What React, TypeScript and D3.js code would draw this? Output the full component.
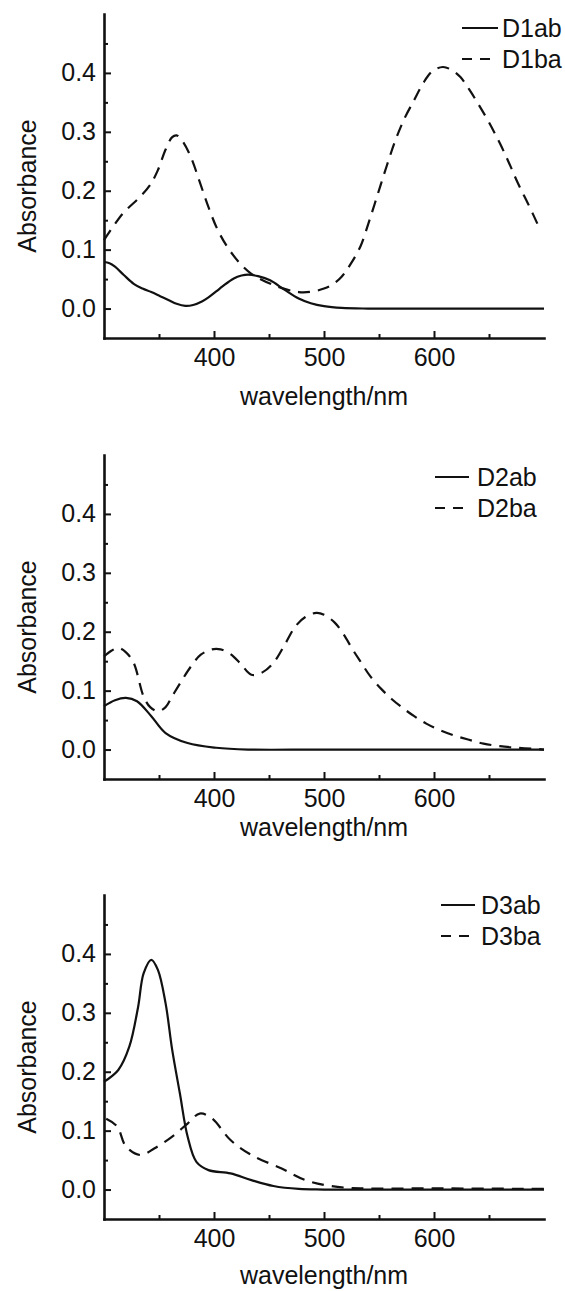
import * as d3 from "d3";
import { useEffect, useRef } from "react";

// wavelength (nm) / absorbance
const d1abNm = [300, 305, 310, 318, 327, 335, 343, 351, 359, 366, 374, 381, 389, 395, 402, 408, 418, 425, 431, 440, 451, 464, 477, 488, 500, 516, 540, 600, 700];
const d1abA = [0.079, 0.077, 0.071, 0.057, 0.042, 0.034, 0.028, 0.021, 0.014, 0.008, 0.0045, 0.006, 0.012, 0.019, 0.029, 0.038, 0.051, 0.056, 0.0577, 0.055, 0.048, 0.032, 0.017, 0.009, 0.004, 0.001, 0, 0, 0];
const d1baNm = [300, 317, 333, 342, 349, 356, 362, 366, 371, 379, 387, 395, 403, 412, 423, 434, 454, 477, 490, 500, 508, 516, 524, 533, 541, 549, 557, 565, 573, 582, 590, 598, 608, 616, 624, 632, 640, 650, 660, 668, 676, 686, 695];
const d1baA = [0.116, 0.161, 0.19, 0.21, 0.235, 0.27, 0.291, 0.294, 0.285, 0.257, 0.215, 0.172, 0.135, 0.105, 0.078, 0.059, 0.04, 0.028, 0.029, 0.034, 0.041, 0.054, 0.075, 0.105, 0.148, 0.195, 0.242, 0.286, 0.322, 0.354, 0.382, 0.402, 0.41, 0.405, 0.393, 0.372, 0.348, 0.316, 0.28, 0.248, 0.214, 0.176, 0.14];

const d2abNm = [300, 310, 320, 330, 343, 356, 376, 402, 431, 500, 700];
const d2abA = [0.0736, 0.0838, 0.0877, 0.082, 0.0566, 0.028, 0.011, 0.003, 0, 0, 0];
const d2baNm = [300, 307, 313, 320, 327, 336, 342, 349, 356, 362, 370, 379, 388, 398, 406, 415, 424, 434, 444, 454, 464, 474, 483, 493, 500, 510, 518, 526, 534, 542, 552, 562, 572, 582, 593, 604, 618, 631, 645, 660, 676, 693, 700];
const d2baA = [0.158, 0.168, 0.1726, 0.165, 0.147, 0.09, 0.072, 0.065, 0.072, 0.0905, 0.115, 0.141, 0.161, 0.17, 0.17, 0.162, 0.146, 0.127, 0.131, 0.147, 0.177, 0.209, 0.225, 0.232, 0.229, 0.215, 0.195, 0.17, 0.147, 0.1245, 0.103, 0.085, 0.07, 0.0566, 0.044, 0.034, 0.024, 0.017, 0.01, 0.0057, 0.003, 0.001, 0];

const d3abNm = [300, 313, 323, 331, 336, 343, 349, 356, 362, 369, 376, 384, 395, 415, 434, 454, 477, 500, 700];
const d3abA = [0.183, 0.203, 0.2425, 0.31, 0.367, 0.39, 0.373, 0.316, 0.237, 0.163, 0.09, 0.047, 0.033, 0.0275, 0.016, 0.006, 0.001, 0, 0];
const d3baNm = [302, 312, 320, 333, 346, 362, 376, 387, 398, 415, 434, 461, 483, 506, 533, 600, 700];
const d3baA = [0.12, 0.107, 0.073, 0.0586, 0.07, 0.09, 0.112, 0.129, 0.121, 0.084, 0.0586, 0.036, 0.016, 0.006, 0.002, 0.002, 0.001];

const xDomain = [300, 700];
const yDomain = [-0.05, 0.5];
const xMajor = [400, 500, 600];
const xMinor = [350, 450, 550, 650];
const yMajor = [0, 0.1, 0.2, 0.3, 0.4];
const yMinor = [0.05, 0.15, 0.25, 0.35, 0.45];

const FONT = "'Liberation Sans', Arial, sans-serif";
const DASH = "12,8";

const panels = [
  { top: 14, names: ["D1ab", "D1ba"], ab: [d1abNm, d1abA], ba: [d1baNm, d1baA], leg: { x1: 462, x2: 498, tx: 502, r1: 14, r2: 45 }, titleGap: 67 },
  { top: 455, names: ["D2ab", "D2ba"], ab: [d2abNm, d2abA], ba: [d2baNm, d2baA], leg: { x1: 435, x2: 469, tx: 477, r1: 22, r2: 53 }, titleGap: 57 },
  { top: 895, names: ["D3ab", "D3ba"], ab: [d3abNm, d3abA], ba: [d3baNm, d3baA], leg: { x1: 441, x2: 475, tx: 481, r1: 10, r2: 41 }, titleGap: 65 },
];

function Panel({ p }: { p: any }) {
  const ref = useRef<SVGGElement>(null);

  useEffect(() => {
    const g = d3.select(ref.current);
    g.selectAll("*").remove();
    const h = 324;
    const x = d3.scaleLinear().domain(xDomain).range([104, 544]);
    const y = d3.scaleLinear().domain(yDomain).range([p.top + h, p.top]);
    const x0 = x(xDomain[0]);
    const yb = y(yDomain[0]);

    // minor ticks, pointing inward
    g.append("g").attr("transform", `translate(${x0},0)`)
      .call(d3.axisLeft(y).tickValues(yMinor).tickSize(-4).tickFormat(() => ""))
      .call((s) => s.select(".domain").remove());
    g.append("g").attr("transform", `translate(0,${yb})`)
      .call(d3.axisBottom(x).tickValues(xMinor).tickSize(-4).tickFormat(() => ""))
      .call((s) => s.select(".domain").remove());

    const ya = g.append("g").attr("transform", `translate(${x0},0)`)
      .call(d3.axisLeft(y).tickValues(yMajor).tickSizeInner(-7).tickSizeOuter(0).tickPadding(8).tickFormat(d3.format(".1f")));
    const xa = g.append("g").attr("transform", `translate(0,${yb})`)
      .call(d3.axisBottom(x).tickValues(xMajor).tickSizeInner(-7).tickSizeOuter(0).tickPadding(10).tickFormat(d3.format("d")));

    g.selectAll(".tick line").attr("stroke", "#111").attr("stroke-width", 2);
    [ya, xa].forEach((a) => {
      a.select(".domain").attr("stroke", "#111").attr("stroke-width", 2.6).attr("stroke-linecap", "square");
      a.selectAll("text").attr("font-size", 25).attr("font-family", FONT).attr("fill", "#111");
    });

    const draw = (nm: number[], a: number[], dash: string | null) => {
      const path = d3.line<number>()
        .x((i) => x(nm[i]))
        .y((i) => y(a[i]))
        .curve(d3.curveCatmullRom.alpha(0.5));
      g.append("path")
        .attr("d", path(d3.range(nm.length)))
        .attr("fill", "none")
        .attr("stroke", "#111")
        .attr("stroke-width", 2.2)
        .attr("stroke-dasharray", dash);
    };
    draw(p.ab[0], p.ab[1], null);
    draw(p.ba[0], p.ba[1], DASH);

    // legend
    const L = p.leg;
    [[L.r1, null], [L.r2, "10,8"]].forEach(([r, dash]: any, i) => {
      g.append("line")
        .attr("x1", L.x1).attr("x2", L.x2)
        .attr("y1", p.top + r).attr("y2", p.top + r)
        .attr("stroke", "#111").attr("stroke-width", 2.2)
        .attr("stroke-dasharray", dash);
      g.append("text")
        .attr("x", L.tx).attr("y", p.top + r).attr("dy", "0.35em")
        .attr("font-size", 25).attr("font-family", FONT).attr("fill", "#111")
        .text(p.names[i]);
    });

    // axis titles
    g.append("text")
      .attr("transform", `translate(36,${p.top + 172}) rotate(-90)`)
      .attr("text-anchor", "middle")
      .attr("font-size", 25).attr("font-family", FONT).attr("fill", "#111")
      .text("Absorbance");
    g.append("text")
      .attr("x", (x(xDomain[0]) + x(xDomain[1])) / 2)
      .attr("y", yb + p.titleGap)
      .attr("text-anchor", "middle")
      .attr("font-size", 25).attr("font-family", FONT).attr("fill", "#111")
      .text("wavelength/nm");
  }, [p]);

  return <g ref={ref} />;
}

export default function App() {
  return (
    <svg width={565} height={1291} style={{ position: "absolute", left: 0, top: 0, background: "#fff" }}>
      {panels.map((p) => (
        <Panel key={p.names[0]} p={p} />
      ))}
    </svg>
  );
}
